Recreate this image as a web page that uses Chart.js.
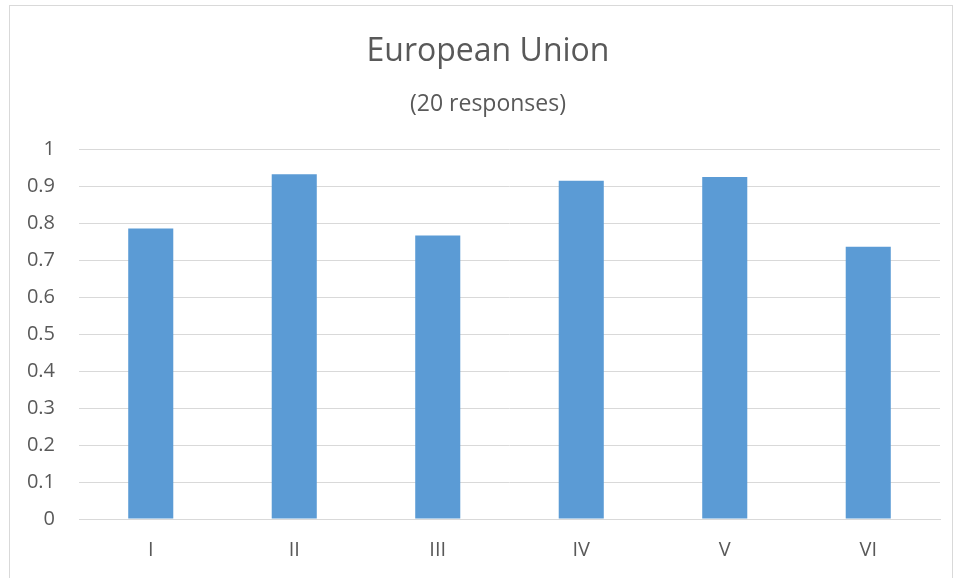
<!DOCTYPE html>
<html>
<head>
<meta charset="utf-8">
<script src="https://cdn.jsdelivr.net/npm/chart.js@4"></script>
<style>
  html, body { margin: 0; padding: 0; background: #ffffff; overflow: hidden; }
  #frame { position: absolute; left: 9px; top: 5px; width: 944px; height: 600px; border: 1px solid #d9d9d9; box-sizing: border-box; }
  #wrap { position: absolute; left: 0; top: 0; width: 958px; height: 578px; overflow: hidden; }
</style>
</head>
<body>
<div id="frame"></div>
<div id="wrap"><canvas id="c" width="976" height="578"></canvas></div>
<script>
const categories = ["I", "II", "III", "IV", "V", "VI"];
const values = [0.785, 0.932, 0.766, 0.914, 0.924, 0.736];
const titleText = "European Union";
const subtitleText = "(20 responses)";

const textColor = "#595959";
const gridColor = "#d9d9d9";
const barColor = "#5b9bd5";

new Chart(document.getElementById("c"), {
  type: "bar",
  data: {
    labels: categories,
    datasets: [{
      data: values,
      backgroundColor: barColor,
      borderWidth: 0,
      barPercentage: 0.628,
      categoryPercentage: 0.5
    }]
  },
  options: {
    responsive: false,
    animation: false,
    layout: { padding: { left: 0, right: 0, top: 0, bottom: 0 } },
    plugins: {
      legend: { display: false },
      tooltip: { enabled: false },
      title: {
        display: true,
        text: titleText,
        color: textColor,
        font: { family: "Open Sans", size: 32, weight: "normal" },
        padding: { top: 33, bottom: 14 }
      },
      subtitle: {
        display: true,
        text: subtitleText,
        color: textColor,
        font: { family: "Open Sans", size: 23, weight: "normal" },
        padding: { top: 5, bottom: 31 }
      }
    },
    scales: {
      x: {
        afterFit: (s) => { s.height = 59; },
        grid: { display: false, drawTicks: false },
        border: { display: true, color: gridColor, width: 1 },
        ticks: { color: textColor, font: { family: "Open Sans", size: 20 }, padding: 19 }
      },
      y: {
        min: 0,
        max: 1,
        afterFit: (s) => { s.width = 79; },
        grid: { color: gridColor, lineWidth: 1, drawTicks: false },
        border: { display: false },
        ticks: {
          stepSize: 0.1,
          color: textColor,
          font: { family: "Open Sans", size: 20 },
          padding: 24,
          callback: (v) => Math.round(v * 10) / 10
        }
      },
      yRight: {
        position: "right",
        afterFit: (s) => { s.width = 36; },
        grid: { display: false, drawTicks: false },
        border: { display: false },
        ticks: { display: false }
      }
    }
  }
});
</script>
</body>
</html>
